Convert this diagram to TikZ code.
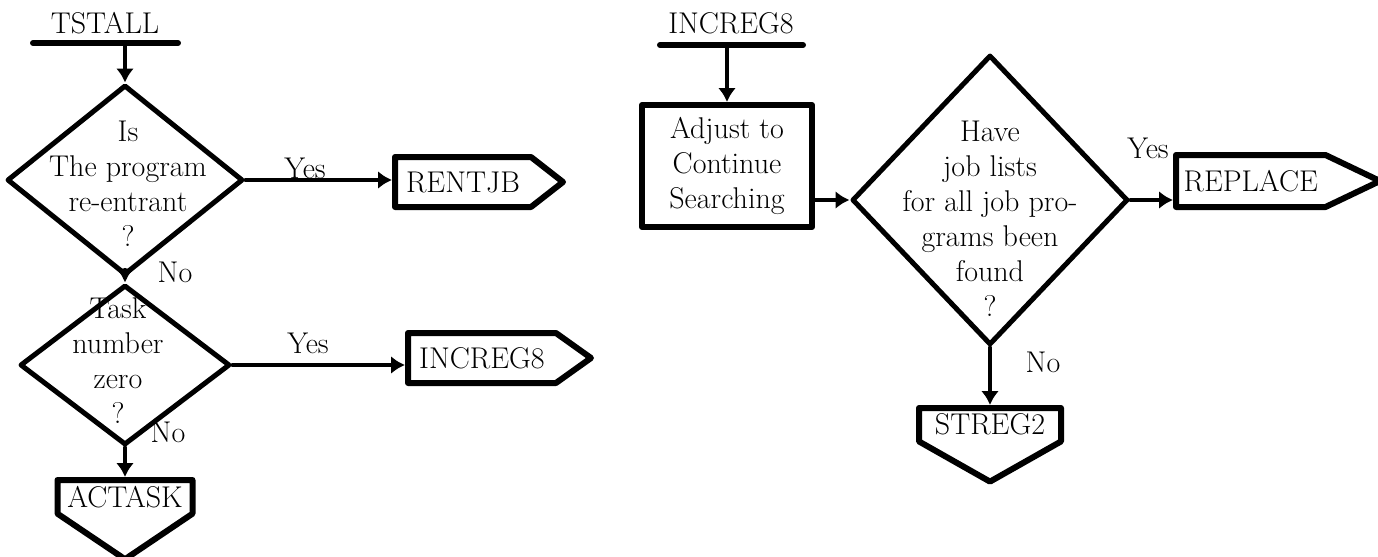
\documentclass[tikz,border=0pt]{standalone}
\usetikzlibrary{arrows.meta,shapes.geometric,shapes.symbols}
\begin{document}
\begin{tikzpicture}[x=0.5pt, y=-0.5pt, line join=round, line cap=round,
    font=\fontsize{15}{17.5}\selectfont, >={Latex[length=7pt,width=9pt]},
    cond/.style={diamond, draw, line width=2.5pt, inner sep=0pt},
    qtext/.style={align=center, inner sep=0pt},
    proc/.style={rectangle, draw, line width=3pt, align=center, inner sep=0pt},
    goright/.style={signal, signal to=east, draw, line width=3pt, inner sep=3pt},
    godown/.style={signal, signal to=south, draw, line width=3pt, inner sep=3pt},
    flow/.style={->, line width=2pt},
    bar/.style={line width=3pt}]
    \useasboundingbox (0,0) rectangle (1378,557);
    % left chart
    \node (tstall) at (105,23) {TSTALL};
    \coordinate (tsin) at (125,43);
    \draw[bar] (33,43) -- (178,43);
    \node[cond, minimum width=118pt, minimum height=95pt] (q1) at (125,180) {};
    \node[qtext] (q1t) at (128,184) {Is\\The program\\re-entrant\\?};
    \node[cond, minimum width=105pt, minimum height=80pt] (q2) at (125,365) {};
    \node[qtext] (q2t) at (118,361) {Task\\number\\zero\\?};
    \node[goright, signal pointer angle=76, minimum width=84pt, minimum height=25pt, anchor=west] (rentjb) at (392,182) {RENTJB};
    \node[goright, signal pointer angle=71, minimum width=91.5pt, minimum height=25pt, anchor=west] (incout) at (405,358) {INCREG8};
    \node[godown, signal pointer angle=112, minimum width=67.5pt, anchor=north] (actask) at (125,477) {ACTASK};
    \draw[flow] (tsin) -- (q1.north);
    \draw[flow] (q1.south) -- (q2.north);
    \draw[flow] (q1.east) -- (q1.east -| rentjb.west);
    \draw[flow] (q2.east) -- (q2.east -| incout.west);
    \draw[flow] (q2.south) -- (actask.north);
    \node (y1) at (305,168) {Yes};
    \node (n1) at (175,272) {No};
    \node (y2) at (308,343) {Yes};
    \node (n2) at (168,432) {No};
    % right chart
    \node (incin) at (731,23) {INCREG8};
    \coordinate (incbar) at (727,45);
    \draw[bar] (660,45) -- (803,45);
    \node[proc, minimum width=85pt, minimum height=61pt] (adj) at (727,166) {Adjust to\\Continue\\Searching};
    \node[cond, minimum width=138pt, minimum height=145pt] (q3) at (990,200) {};
    \node[qtext] (q3t) at (990,219) {Have\\job lists\\for all job pro-\\grams been\\found\\?};
    \node[goright, signal pointer angle=51, minimum width=102pt, minimum height=26pt, anchor=west] (replace) at (1173,181) {REPLACE};
    \node[godown, signal pointer angle=121, minimum width=71pt, anchor=north] (streg) at (990,405) {STREG2};
    \draw[flow] (incbar) -- (adj.north);
    \draw[flow] (q3.west -| adj.east) -- (q3.west);
    \draw[flow] (q3.east) -- (q3.east -| replace.west);
    \draw[flow] (q3.south) -- (streg.north);
    \node (y3) at (1148,148) {Yes};
    \node (n3) at (1043,362) {No};
\end{tikzpicture}
\end{document}
